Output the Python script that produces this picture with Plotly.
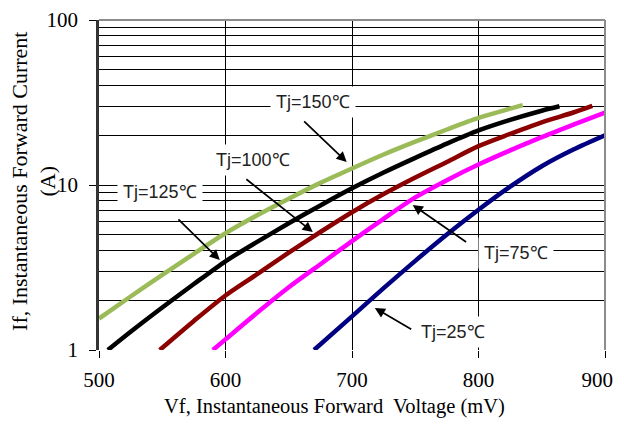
import numpy as np
import plotly.graph_objects as go

# Data (Vf in mV, If in A)
v150 = [500, 525, 550, 575, 600, 625, 650, 675, 700, 725, 750, 775, 800, 825, 835]
i150 = [1.55, 2.11, 2.85, 3.83, 5.1, 6.55, 8.26, 10.3, 12.6, 15.3, 18.3, 21.7, 25.5, 29.0, 30.5]

v125 = [507, 525, 550, 575, 600, 625, 650, 675, 700, 725, 750, 775, 800, 825, 850, 864]
i125 = [1.0, 1.29, 1.81, 2.51, 3.45, 4.52, 5.86, 7.52, 9.55, 11.9, 14.6, 17.8, 21.4, 24.8, 28.2, 30.0]

v100 = [548, 575, 600, 625, 650, 675, 700, 725, 750, 775, 800, 825, 850, 875, 890]
i100 = [1.0, 1.50, 2.14, 2.88, 3.89, 5.19, 6.84, 8.81, 11.1, 13.8, 17.2, 20.4, 24.0, 27.5, 30.2]

v75 = [590, 600, 625, 650, 675, 700, 725, 750, 775, 800, 825, 850, 875, 900]
i75 = [1.0, 1.16, 1.68, 2.40, 3.31, 4.57, 6.24, 8.41, 10.7, 13.3, 16.2, 19.5, 23.2, 27.5]

v25 = [670, 700, 725, 750, 775, 800, 825, 850, 875, 900]
i25 = [1.0, 1.60, 2.37, 3.47, 5.01, 7.08, 9.77, 13.0, 16.4, 20.0]

series = [
    ("Tj=150℃", v150, i150, "#9BBB59"),
    ("Tj=125℃", v125, i125, "#000000"),
    ("Tj=100℃", v100, i100, "#8B0000"),
    ("Tj=75℃", v75, i75, "#FF00FF"),
    ("Tj=25℃", v25, i25, "#000080"),
]

x_ticks = [500, 600, 700, 800, 900]
# trailing no-break spaces keep the last label inside the visible page
x_tick_labels = ["500", "600", "700", "800", "900\u00a0\u00a0\u00a0"]
y_ticks = [1, 10, 100]
y_minor = [2, 3, 4, 5, 6, 7, 8, 9, 20, 30, 40, 50, 60, 70, 80, 90]

SERIF = "Times New Roman, Liberation Serif, serif"
SANS = "Liberation Sans, Arial, sans-serif"

fig = go.Figure()
for name, v, i, c in series:
    fig.add_trace(go.Scatter(x=v, y=i, mode="lines", name=name,
                             line=dict(color=c, width=4.5, shape="spline", smoothing=0.8),
                             showlegend=False))

# label positions (x in mV, y in log10 units) and arrows (tail -> head)
labels = [
    ("Tj=150℃", 669, 1.503, 661, 1.394, 695.8, 1.139),
    ("Tj=100℃", 621.6, 1.152, 615.3, 1.042, 669, 0.715),
    ("Tj=125℃", 548.2, 0.958, 561.6, 0.80, 595.5, 0.545),
    ("Tj=75℃", 830, 0.588, 791.4, 0.648, 748, 0.879),
    ("Tj=25℃", 779.5, 0.109, 748, 0.121, 718, 0.255),
]
for txt, tx, ty, axv, ayv, hx, hy in labels:
    fig.add_annotation(x=hx, y=hy, ax=axv, ay=ayv, axref="x", ayref="y",
                       xref="x", yref="y", text="", showarrow=True,
                       arrowhead=2, arrowsize=1.2, arrowwidth=1.7, arrowcolor="black")
    fig.add_annotation(x=tx, y=ty, xref="x", yref="y", text=txt, showarrow=False,
                       bgcolor="white", borderpad=5,
                       font=dict(family=SANS, size=18, color="#222"))

# axis titles
fig.add_annotation(x=0.466, y=-0.17, xref="paper", yref="paper",
                   xanchor="center", yanchor="middle",
                   text="Vf, Instantaneous Forward  Voltage (mV)", showarrow=False,
                   font=dict(family=SERIF, size=20.5, color="black"))
fig.add_annotation(x=-0.130, y=0.51, xref="paper", yref="paper", textangle=-90,
                   xanchor="center", yanchor="middle",
                   text="If, Instantaneous Forward Current<br>(A)", showarrow=False,
                   font=dict(family=SERIF, size=22, color="black"))

fig.update_xaxes(range=[500, 900], tickvals=x_ticks, ticktext=x_tick_labels,
                 ticks="outside", ticklen=7, ticklabeloverflow="allow",
                 tickcolor="black", showgrid=True, gridcolor="black", gridwidth=1,
                 zeroline=False, showline=False, automargin=False, ticklabelstandoff=4,
                 tickfont=dict(family=SERIF, size=21, color="black"))
fig.update_yaxes(type="log", range=[0, 2], tickvals=y_ticks, ticks="outside", ticklen=7,
                 tickcolor="black", showgrid=True, gridcolor="black", gridwidth=1,
                 minor=dict(tickvals=y_minor, showgrid=True, gridcolor="black", gridwidth=1, ticks=""),
                 zeroline=False, showline=True, linecolor="#333", linewidth=2.5,
                 automargin=False, ticklabelstandoff=7,
                 tickfont=dict(family=SERIF, size=21, color="black"))

# gray frame on top and right
fig.add_shape(type="line", xref="paper", yref="paper", x0=0, x1=1, y0=1, y1=1,
              line=dict(color="#8c8c8c", width=2))
fig.add_shape(type="line", xref="paper", yref="paper", x0=1, x1=1, y0=0, y1=1,
              line=dict(color="#8c8c8c", width=2))

# page body adds an 8px margin, margins compensate so the plot area sits where the reference has it
fig.update_layout(width=616, height=411, margin=dict(l=91, r=19, t=12, b=69),
                  plot_bgcolor="white", paper_bgcolor="white")
fig.write_html("out.html")
